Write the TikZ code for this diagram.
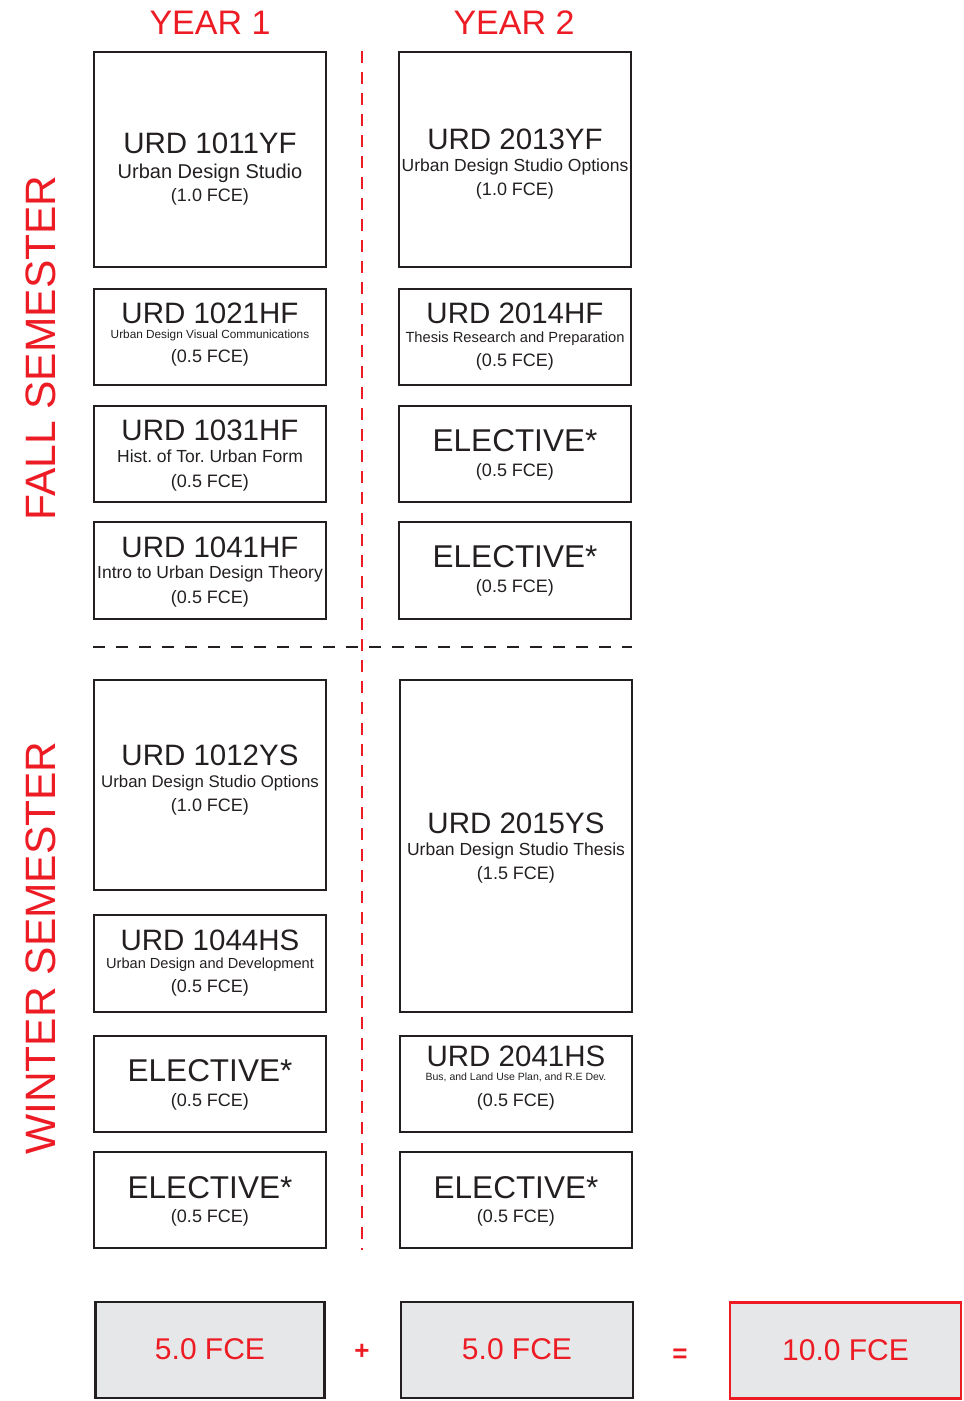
\documentclass[tikz,border=0pt]{standalone}
\usepackage{fontspec}
\setmainfont{Liberation Sans}
\definecolor{ink}{HTML}{231F20}
\definecolor{urdred}{HTML}{ED1C24}
\definecolor{boxgray}{HTML}{E6E7E8}
\newcommand{\fs}[1]{\fontsize{#1}{#1}\selectfont}
\frenchspacing
\begin{document}
\begin{tikzpicture}[x=1pt,y=-1pt,
  coursebox/.style={draw=ink, line width=2.6pt, inner sep=0pt, minimum width=232pt},
  totalbox/.style={draw=ink, fill=boxgray, line width=2.6pt, inner sep=0pt, minimum width=229pt, minimum height=96pt},
  sumbox/.style={draw=urdred, fill=boxgray, line width=2.2pt, inner sep=0pt, minimum width=231pt, minimum height=96pt},
  txt/.style={anchor=base, inner sep=0pt, text=ink},
  ttl/.style={txt, font=\fs{29.5}},
  sub/.style={txt, font=\fs{17.5}},
  fce/.style={txt, font=\fs{18}},
  elec/.style={txt, font=\fs{31.5}},
  redtxt/.style={anchor=base, inner sep=0pt, text=urdred},
]
\useasboundingbox (0,0) rectangle (964,1401);

% headers
\node[redtxt, font=\fs{34}] (y1) at (210,34.2) {YEAR 1};
\node[redtxt, font=\fs{34}] (y2) at (514,34.2) {YEAR 2};
\node[redtxt, font=\fs{42.5}, rotate=90] (fall) at (55,348) {FALL SEMESTER};
\node[redtxt, font=\fs{42.5}, rotate=90] (winter) at (55,948) {WINTER SEMESTER};

% separators
\coordinate (vtop) at (362,51);
\coordinate (vbot) at (362,1250);
\draw[urdred, line width=2.4pt, dash pattern=on 12pt off 9pt] (vtop) -- (vbot);
\coordinate (hl) at (93,647);
\coordinate (hr) at (632,647);
\draw[ink, line width=1.4pt, dash pattern=on 12pt off 11pt] (hl) -- (hr);

% Fall year 1
\node[coursebox, minimum height=215pt] (f11) at (210,159.5) {};
\node[ttl] at (210,153.6) {URD 1011YF};
\node[txt, font=\fs{20}] at (210,178.2) {Urban Design Studio};
\node[fce] at (210,201.4) {(1.0 FCE)};

\node[coursebox, minimum height=96pt] (f12) at (210,337) {};
\node[ttl] at (210,323.6) {URD 1021HF};
\node[txt, font=\fs{11.8}] at (210,338.2) {Urban Design Visual Communications};
\node[fce] at (210,362.4) {(0.5 FCE)};

\node[coursebox, minimum height=96pt] (f13) at (210,454) {};
\node[ttl] at (210,440.6) {URD 1031HF};
\node[sub] at (210,462.3) {Hist. of Tor. Urban Form};
\node[fce] at (210,487.4) {(0.5 FCE)};

\node[coursebox, minimum height=97pt] (f14) at (210,570.5) {};
\node[ttl] at (210,557.6) {URD 1041HF};
\node[sub] at (210,578.3) {Intro to Urban Design Theory};
\node[fce] at (210,603.4) {(0.5 FCE)};

% Fall year 2
\node[coursebox, minimum height=215pt] (f21) at (515,159.5) {};
\node[ttl] at (515,149.6) {URD 2013YF};
\node[sub] at (515,171.3) {Urban Design Studio Options};
\node[fce] at (515,195.4) {(1.0 FCE)};

\node[coursebox, minimum height=96pt] (f22) at (515,337) {};
\node[ttl] at (515,323.6) {URD 2014HF};
\node[txt, font=\fs{14.7}] at (515,342.3) {Thesis Research and Preparation};
\node[fce] at (515,366.4) {(0.5 FCE)};

\node[coursebox, minimum height=96pt] (f23) at (515,454) {};
\node[elec] at (515,451.1) {ELECTIVE*};
\node[fce] at (515,476.4) {(0.5 FCE)};

\node[coursebox, minimum height=97pt] (f24) at (515,570.5) {};
\node[elec] at (515,567.1) {ELECTIVE*};
\node[fce] at (515,592.4) {(0.5 FCE)};

% Winter year 1
\node[coursebox, minimum height=210pt] (w11) at (210,785) {};
\node[ttl] at (210,765.6) {URD 1012YS};
\node[txt, font=\fs{16.8}] at (210,787.3) {Urban Design Studio Options};
\node[fce] at (210,811.4) {(1.0 FCE)};

\node[coursebox, minimum height=97pt] (w12) at (210,963.5) {};
\node[ttl] at (210,950.6) {URD 1044HS};
\node[txt, font=\fs{14.6}] at (210,968.2) {Urban Design and Development};
\node[fce] at (210,992.4) {(0.5 FCE)};

\node[coursebox, minimum height=96pt] (w13) at (210,1084) {};
\node[elec] at (210,1081.1) {ELECTIVE*};
\node[fce] at (210,1106.4) {(0.5 FCE)};

\node[coursebox, minimum height=96pt] (w14) at (210,1200) {};
\node[elec] at (210,1198.1) {ELECTIVE*};
\node[fce] at (210,1222.4) {(0.5 FCE)};

% Winter year 2
\node[coursebox, minimum height=332pt] (w21) at (516,846) {};
\node[ttl] at (516,833.6) {URD 2015YS};
\node[sub] at (516,855.3) {Urban Design Studio Thesis};
\node[fce] at (516,879.4) {(1.5 FCE)};

\node[coursebox, minimum height=96pt] (w22) at (516,1084) {};
\node[ttl] at (516,1066.6) {URD 2041HS};
\node[txt, font=\fs{10.5}] at (516,1080.8) {Bus, and Land Use Plan, and R.E Dev.};
\node[fce] at (516,1106.4) {(0.5 FCE)};

\node[coursebox, minimum height=96pt] (w23) at (516,1200) {};
\node[elec] at (516,1198.1) {ELECTIVE*};
\node[fce] at (516,1222.4) {(0.5 FCE)};

% totals
\node[totalbox] (t1) at (210,1350) {};
\node[redtxt, font=\fs{30}] at (210,1359.7) {5.0 FCE};
\node[redtxt, font=\fs{26}\bfseries] (plus) at (362,1359) {+};
\node[totalbox, minimum width=232pt] (t2) at (517,1350) {};
\node[redtxt, font=\fs{30}] at (517,1359.7) {5.0 FCE};
\node[redtxt, font=\fs{26}\bfseries] (eq) at (680,1362) {=};
\node[sumbox] (t3) at (845.5,1350.5) {};
\node[redtxt, font=\fs{30}] at (845.5,1360.7) {10.0 FCE};
\end{tikzpicture}
\end{document}
